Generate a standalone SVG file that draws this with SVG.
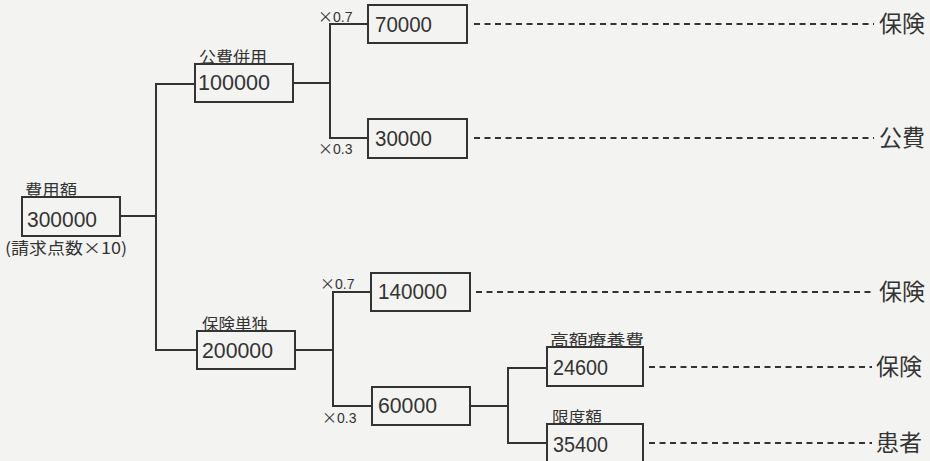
<svg xmlns="http://www.w3.org/2000/svg" width="930" height="461" viewBox="0 0 930 461">
<style>
.bg{fill:#f3f3f1}
.box{fill:none;stroke:#333;stroke-width:2}
.ln{fill:none;stroke:#333;stroke-width:2}
.dash{fill:none;stroke:#333;stroke-width:1.8;stroke-dasharray:6 4.5}
.num{font-family:"Liberation Sans","Noto Sans CJK JP",sans-serif;font-size:22px;fill:#333}
.lbl{font-family:"Noto Sans CJK JP",sans-serif;font-size:16px;fill:#333}
.end{font-family:"Noto Sans CJK JP",sans-serif;font-size:23px;fill:#333}
.mul{font-family:"Liberation Sans","Noto Sans CJK JP",sans-serif;font-size:14px;fill:#333}
.x{font-family:"Noto Sans CJK JP",sans-serif;font-size:15px}
</style>
<rect class="bg" x="0" y="0" width="930" height="461"/>
<g id="connectors">
<polyline class="ln" points="120,216 156,216"/>
<polyline class="ln" points="195,84 156,84 156,350 197,350"/>
<polyline class="ln" points="293,83 330,83"/>
<polyline class="ln" points="368,24 330,24 330,138 368,138"/>
<polyline class="ln" points="295,350 333,350"/>
<polyline class="ln" points="371,292 333,292 333,406 372,406"/>
<polyline class="ln" points="470,406 508,406"/>
<polyline class="ln" points="547,368 508,368 508,443 547,443"/>
<line class="dash" x1="474" y1="24" x2="874" y2="24"/>
<line class="dash" x1="474" y1="138" x2="874" y2="138"/>
<line class="dash" x1="476" y1="292" x2="874" y2="292"/>
<line class="dash" x1="649" y1="367" x2="872" y2="367"/>
<line class="dash" x1="649" y1="443" x2="872" y2="443"/>
</g>
<g id="n-total">
<text class="lbl" x="25" y="196" textLength="52" lengthAdjust="spacingAndGlyphs">費用額</text>
<rect class="box" x="22" y="197" width="98" height="39"/>
<text class="num" x="27" y="227" textLength="70" lengthAdjust="spacingAndGlyphs">300000</text>
<text class="lbl" x="5" y="254" font-size="15" textLength="122" lengthAdjust="spacingAndGlyphs">(請求点数×10)</text>
</g>
<g id="n-kohi">
<text class="lbl" x="199" y="63" textLength="68" lengthAdjust="spacingAndGlyphs">公費併用</text>
<rect class="box" x="195" y="64" width="98" height="38"/>
<text class="num" x="198" y="90" textLength="72" lengthAdjust="spacingAndGlyphs">100000</text>
</g>
<g id="n-hoken">
<text class="lbl" x="202" y="330" textLength="66" lengthAdjust="spacingAndGlyphs">保険単独</text>
<rect class="box" x="197" y="331" width="98" height="38"/>
<text class="num" x="202" y="358" textLength="71" lengthAdjust="spacingAndGlyphs">200000</text>
</g>
<g id="n-70000">
<text class="mul" x="318" y="22"><tspan class="x">×</tspan>0.7</text>
<rect class="box" x="368" y="5" width="99" height="38"/>
<text class="num" x="375" y="32" textLength="57" lengthAdjust="spacingAndGlyphs">70000</text>
</g>
<g id="n-30000">
<text class="mul" x="318" y="154"><tspan class="x">×</tspan>0.3</text>
<rect class="box" x="368" y="119" width="99" height="39"/>
<text class="num" x="375" y="146" textLength="57" lengthAdjust="spacingAndGlyphs">30000</text>
</g>
<g id="n-140000">
<text class="mul" x="320" y="289"><tspan class="x">×</tspan>0.7</text>
<rect class="box" x="371" y="273" width="99" height="38"/>
<text class="num" x="378" y="299" textLength="69" lengthAdjust="spacingAndGlyphs">140000</text>
</g>
<g id="n-60000">
<text class="mul" x="322" y="423"><tspan class="x">×</tspan>0.3</text>
<rect class="box" x="372" y="387" width="98" height="38"/>
<text class="num" x="378" y="413" textLength="59" lengthAdjust="spacingAndGlyphs">60000</text>
</g>
<g id="n-24600">
<text class="lbl" x="550" y="346" textLength="94" lengthAdjust="spacingAndGlyphs">高額療養費</text>
<rect class="box" x="547" y="347" width="96" height="39"/>
<text class="num" x="553" y="375" textLength="55" lengthAdjust="spacingAndGlyphs">24600</text>
</g>
<g id="n-35400">
<text class="lbl" x="552" y="423" textLength="50" lengthAdjust="spacingAndGlyphs">限度額</text>
<rect class="box" x="547" y="424" width="96" height="40"/>
<text class="num" x="553" y="452" textLength="55" lengthAdjust="spacingAndGlyphs">35400</text>
</g>
<g id="ends">
<text class="end" x="879" y="32">保険</text>
<text class="end" x="879" y="146">公費</text>
<text class="end" x="879" y="300">保険</text>
<text class="end" x="876" y="375">保険</text>
<text class="end" x="876" y="451">患者</text>
</g>
</svg>
